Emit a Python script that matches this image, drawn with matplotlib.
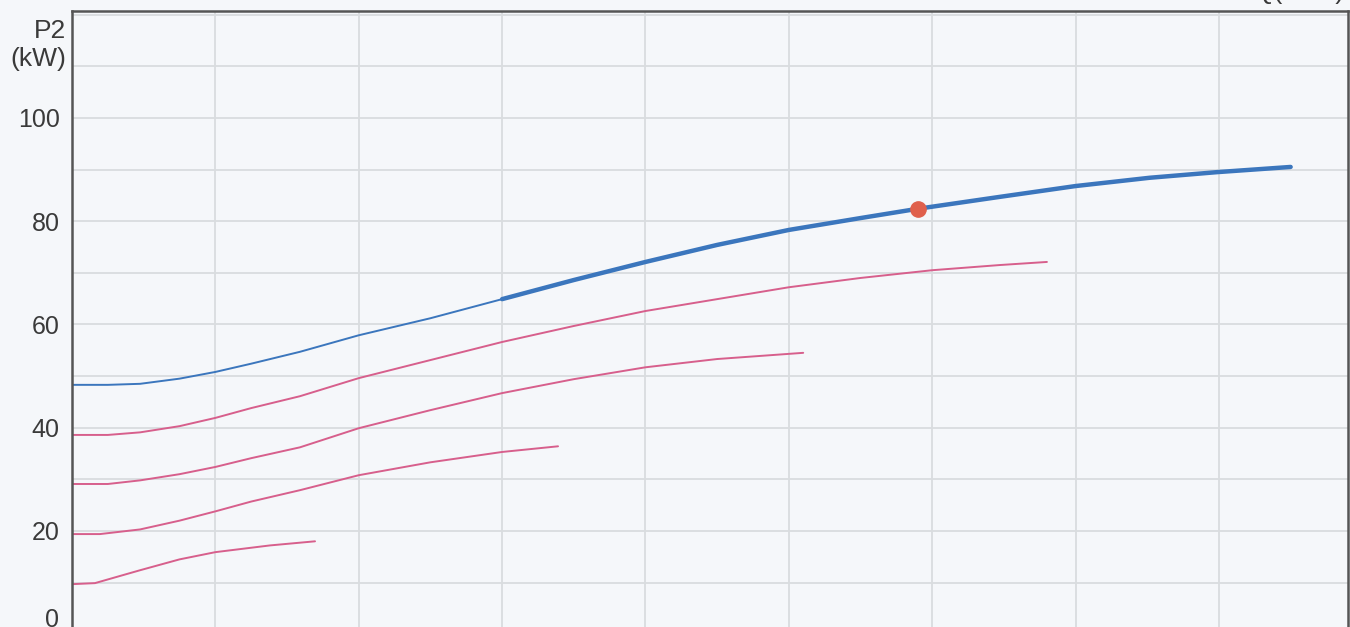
import matplotlib
matplotlib.use("Agg")
import matplotlib.pyplot as plt
import matplotlib.transforms as mtransforms
import numpy as np

# Flow rate Q (m³/h) and shaft power P2 (kW)
q_main = [0, 5, 9.5, 15, 20, 25, 31.8, 40, 50, 60, 70, 80, 90, 100, 110, 118, 129.4, 140, 150.3, 159.8, 170]
p_main = [48.3, 48.3, 48.5, 49.5, 50.8, 52.4, 54.7, 57.9, 61.2, 64.9, 68.6, 72.1, 75.4, 78.3, 80.6, 82.4, 84.7, 86.8, 88.4, 89.5, 90.5]
main_thick_from = 60  # operating range drawn with a heavier line

q_a = [0, 5, 9.5, 15, 20, 25, 31.8, 40, 50, 60, 70, 80, 90, 100, 110, 120, 129.4, 136]
p_a = [38.6, 38.6, 39.1, 40.3, 41.9, 43.8, 46.1, 49.6, 53.1, 56.6, 59.7, 62.6, 64.9, 67.2, 69.0, 70.5, 71.5, 72.1]

q_b = [0, 5, 9.5, 15, 20, 25, 31.8, 40, 50, 60, 70, 80, 90, 102]
p_b = [29.1, 29.1, 29.8, 31.0, 32.4, 34.1, 36.2, 39.9, 43.4, 46.7, 49.4, 51.7, 53.3, 54.5]

q_c = [0, 3.9, 9.5, 15, 20, 25, 31.8, 40, 50, 60, 67.8]
p_c = [19.4, 19.4, 20.3, 22.0, 23.8, 25.7, 27.9, 30.8, 33.3, 35.3, 36.4]

q_d = [0, 3.2, 9.5, 15, 20, 27.6, 33.9]
p_d = [9.7, 9.9, 12.4, 14.5, 15.9, 17.2, 18.0]

duty_q = [118]
duty_p = [82.4]

y_ticks = [0, 20, 40, 60, 80, 100]

BLUE = "#3b76bd"
PINK = "#d75f8c"
RED = "#e0604c"
GRID = "#d9dcdf"
BG = "#f5f7fa"
INK = "#3a3a3a"

plt.rcParams["font.family"] = ["Liberation Sans", "DejaVu Sans"]

fig = plt.figure(figsize=(13.5, 6.27), dpi=100, facecolor=BG)
ax = fig.add_axes([72 / 1350, -7.25 / 627, 1276 / 1350, 623.25 / 627])
ax.set_facecolor(BG)

ax.set_xlim(0, 178)
ax.set_ylim(0, 120.7)

ax.set_xticks(np.arange(0, 178, 20))
grid_levels = np.arange(0, 121, 10)
ax.set_yticks(grid_levels)
ax.set_yticklabels([str(v) if v in y_ticks else "" for v in grid_levels],
                   fontsize=18, color=INK)
ax.set_xticklabels([])
ax.tick_params(axis="both", length=0, pad=9)
ax.grid(True, color=GRID, linewidth=1.3)
ax.set_axisbelow(True)

# lift the zero label so it sits inside the canvas
zero_label = ax.get_yticklabels()[0]
zero_label.set_transform(zero_label.get_transform() +
                         mtransforms.ScaledTranslation(0, 17 / 100, fig.dpi_scale_trans))

for side in ("left", "top", "right"):
    ax.spines[side].set_color("#555555")
    ax.spines[side].set_linewidth(1.8)
ax.spines["bottom"].set_visible(False)

# Reduced-speed curves
for q, p in ((q_a, p_a), (q_b, p_b), (q_c, p_c), (q_d, p_d)):
    ax.plot(q, p, color=PINK, linewidth=1.4, solid_capstyle="round")

# Full-speed curve: thin outside the operating range, heavy inside
q_main = np.array(q_main)
p_main = np.array(p_main)
thin = q_main <= main_thick_from
thick = q_main >= main_thick_from
ax.plot(q_main[thin], p_main[thin], color=BLUE, linewidth=1.4)
ax.plot(q_main[thick], p_main[thick], color=BLUE, linewidth=3.2, solid_capstyle="round")

# Duty point
ax.plot(duty_q, duty_p, "o", color=RED, markersize=11, zorder=5)

# Axis captions
fig.text(66 / 1350, 1 - 31 / 627, "P2", ha="right", va="center", fontsize=19, color=INK)
fig.text(66 / 1350, 1 - 59 / 627, "(kW)", ha="right", va="center", fontsize=19, color=INK)
fig.text(1345 / 1350, 1 + 8 / 627, "Q(m³/h)", ha="right", va="center", fontsize=19, color=INK)

fig.savefig("out.png", dpi=100, facecolor=BG)
